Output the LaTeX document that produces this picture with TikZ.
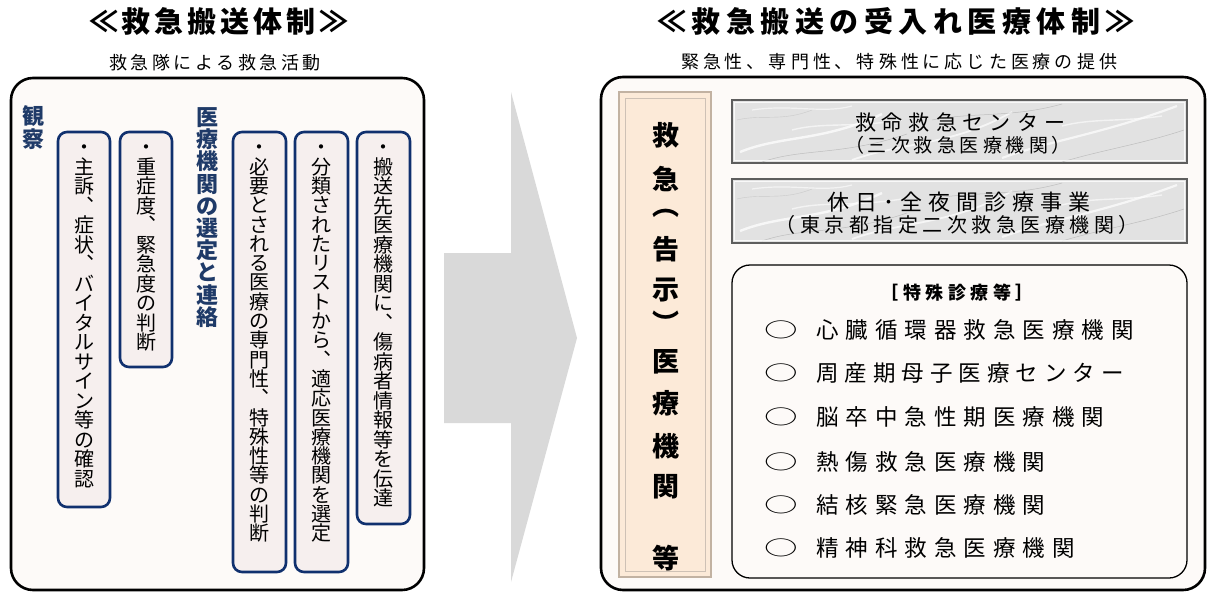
\documentclass[tikz,border=0pt]{standalone}
\usepackage{fontspec}
\setmainfont{Noto Sans CJK JP}
\definecolor{navy}{HTML}{10306E}
\definecolor{headnavy}{HTML}{1F3A68}
\definecolor{boxfill}{HTML}{F6EFEE}
\definecolor{panelfill}{HTML}{FDFAF8}
\definecolor{peach}{HTML}{FCEAD8}
\definecolor{peachline}{HTML}{C2B2A2}
\definecolor{arrowgray}{HTML}{D9D9D9}
\definecolor{marblefill}{HTML}{E2E2E2}
\definecolor{marbleline}{HTML}{5E5E5E}
\makeatletter
\newcommand\vstack[2]{\vbox{\baselineskip=#1\lineskip=0pt\lineskiplimit=-\maxdimen
  \@tfor\vs@c:=#2\do{\hbox to 1.1em{\hss\rule{0pt}{0.88em}\vs@c\hss}}}}
\newcommand\spaced[2]{\@tfor\sp@c:=#2\do{\sp@c\kern#1}\kern-#1\relax}
\makeatother
\newcommand\veins{%
  \draw[white,line width=2.4pt,opacity=.75] (8,52) .. controls (50,35) and (90,42) .. (150,14);
  \draw[white,line width=1.8pt,opacity=.7] (120,60) .. controls (170,42) and (220,46) .. (280,12);
  \draw[white,line width=2.2pt,opacity=.7] (270,58) .. controls (320,40) and (370,34) .. (445,6);
  \draw[white,line width=1.4pt,opacity=.6] (60,30) .. controls (90,22) and (120,28) .. (170,20);
  \draw[white,line width=1.4pt,opacity=.6] (330,26) .. controls (360,18) and (390,22) .. (430,16);
  \draw[gray!70,line width=.5pt,opacity=.6] (30,62) .. controls (70,48) and (110,56) .. (175,34);
  \draw[gray!70,line width=.5pt,opacity=.6] (200,20) .. controls (240,12) and (280,18) .. (330,4);
  \draw[gray!70,line width=.5pt,opacity=.6] (330,62) .. controls (370,50) and (410,44) .. (452,30);
  \draw[gray!60,line width=.4pt,opacity=.5] (5,20) .. controls (30,14) and (50,22) .. (80,10);
  \draw[white,line width=1.2pt,opacity=.6] (20,10) .. controls (60,4) and (90,14) .. (120,6);
}
\begin{document}
\begin{tikzpicture}[x=1pt,y=-1pt,
  panel/.style={draw=black,line width=2.6pt,fill=panelfill,rounded corners=22pt},
  vbx/.style={draw=navy,line width=2.6pt,fill=boxfill,rounded corners=9pt},
  vtxt/.style={inner sep=0pt,anchor=north,font=\fontsize{20}{20}\selectfont},
  head/.style={inner sep=0pt,anchor=north,text=headnavy,font=\fontsize{22}{22}\selectfont\bfseries},
  title/.style={inner sep=0pt,font=\fontsize{29}{29}\selectfont\bfseries},
  subtitle/.style={inner sep=0pt,font=\fontsize{18}{18}\selectfont},
  colchar/.style={inner sep=0pt,font=\fontsize{27}{27}\selectfont\bfseries},
  mtext/.style={inner sep=0pt,font=\fontsize{21}{21}\selectfont},
  stext/.style={inner sep=0pt,font=\fontsize{19}{19}\selectfont},
  item/.style={inner sep=0pt,anchor=west,font=\fontsize{22.5}{22.5}\selectfont},
  circ/.style={inner sep=0pt,font=\fontsize{28}{28}\selectfont,xscale=1.2,yscale=0.72},
  marble/.style={draw=marbleline,line width=1.4pt,fill=marblefill}
]
\useasboundingbox (0,0) rectangle (1208,592);
\fill[white] (0,0) rectangle (1208,592);

% ---------- titles ----------
\node[title] (t1) at (219,21) {\spaced{4pt}{≪救急搬送体制≫}};
\node[subtitle] (s1) at (215,63) {\spaced{3.5pt}{救急隊による救急活動}};
\node[title] (t2) at (896,21) {\spaced{5.5pt}{≪救急搬送の受入れ医療体制≫}};
\node[subtitle] (s2) at (899,62) {\spaced{4pt}{緊急性、専門性、特殊性に応じた医療の提供}};

% ---------- left panel ----------
\draw[panel] (11,78) rectangle (424,590);
\node[head] (hobs) at (33,105) {\vstack{22.5pt}{観察}};
\node[head] (hsel) at (207,106) {\vstack{22.2pt}{医療機関の選定と連絡}};

\draw[vbx] (58,132) rectangle (110,507);
\draw[vbx] (120,132) rectangle (172,367);
\draw[vbx] (233,132) rectangle (286,572);
\draw[vbx] (295,132) rectangle (348,572);
\draw[vbx] (357,132) rectangle (410,524);

\node[vtxt] (v1) at (84,137) {\vstack{19.5pt}{・主訴︑症状︑バイタルサイン等の確認}};
\node[vtxt] (v2) at (146,137) {\vstack{19.5pt}{・重症度︑緊急度の判断}};
\node[vtxt] (v3) at (259.5,137) {\vstack{19.3pt}{・必要とされる医療の専門性︑特殊性等の判断}};
\node[vtxt] (v4) at (321.5,137) {\vstack{19.3pt}{・分類されたリストから︑適応医療機関を選定}};
\node[vtxt] (v5) at (383.5,137) {\vstack{19.5pt}{・搬送先医療機関に︑傷病者情報等を伝達}};

% ---------- arrow ----------
\fill[arrowgray] (444,253) -- (511,253) -- (511,92) -- (577,338) -- (511,582) -- (511,423) -- (444,423) -- cycle;

% ---------- right panel ----------
\draw[panel] (601,77) rectangle (1205,590);

% beige column
\draw[peachline,line width=1.4pt,fill=peach] (619,92) rectangle (711,577);
\draw[peachline!80,line width=1pt] (625,98) rectangle (705,571);
\node[colchar] (c1) at (666,135) {救};
\node[colchar] (c2) at (666,179) {急};
\node[colchar] (c3) at (666,213) {︵};
\node[colchar] (c4) at (666,249) {告};
\node[colchar] (c5) at (666,290) {示};
\node[colchar] (c6) at (666,322) {︶};
\node[colchar] (c7) at (666,362) {医};
\node[colchar] (c8) at (666,403) {療};
\node[colchar] (c9) at (666,446) {機};
\node[colchar] (c10) at (666,487) {関};
\node[colchar] (c11) at (666,558) {等};

% marble boxes
\draw[marble] (732,100) rectangle (1187,163);
\begin{scope}
  \clip (733,101) rectangle (1186,162);
  \begin{scope}[shift={(732,100)}]\veins\end{scope}
\end{scope}
\draw[white,line width=.8pt,opacity=.8] (734.5,102.5) rectangle (1184.5,160.5);
\draw[marble] (732,179) rectangle (1187,243);
\begin{scope}
  \clip (733,180) rectangle (1186,242);
  \begin{scope}[shift={(732,179)}]\veins\end{scope}
\end{scope}
\draw[white,line width=.8pt,opacity=.8] (734.5,181.5) rectangle (1184.5,240.5);

\node[mtext] (m1a) at (960,123) {\spaced{6pt}{救命救急センター}};
\node[stext] (m1b) at (958,145) {\spaced{4pt}{（三次救急医療機関）}};
\node[mtext,font=\fontsize{22}{22}\selectfont] (m2a) at (959,202) {\spaced{6pt}{休日･全夜間診療事業}};
\node[stext,font=\fontsize{20}{20}\selectfont] (m2b) at (957,225) {\spaced{4.5pt}{（東京都指定二次救急医療機関）}};

% special box
\draw[black,line width=1.3pt,fill=panelfill,rounded corners=18pt] (732,265) rectangle (1187,578);
\node[inner sep=0pt,font=\fontsize{18}{18}\selectfont\bfseries] (sp) at (957,293) {\spaced{4.5pt}{［特殊診療等］}};

\node[circ] (o1) at (781,330) {○};
\node[item] (i1) at (816,330) {\spaced{7pt}{心臓循環器救急医療機関}};
\node[circ] (o2) at (781,373) {○};
\node[item] (i2) at (816,373) {\spaced{6pt}{周産期母子医療センター}};
\node[circ] (o3) at (781,417) {○};
\node[item] (i3) at (816,417) {\spaced{7pt}{脳卒中急性期医療機関}};
\node[circ] (o4) at (781,462) {○};
\node[item] (i4) at (816,462) {\spaced{7pt}{熱傷救急医療機関}};
\node[circ] (o5) at (781,505) {○};
\node[item] (i5) at (816,505) {\spaced{7pt}{結核緊急医療機関}};
\node[circ] (o6) at (781,548) {○};
\node[item] (i6) at (816,548) {\spaced{7pt}{精神科救急医療機関}};
\end{tikzpicture}
\end{document}
